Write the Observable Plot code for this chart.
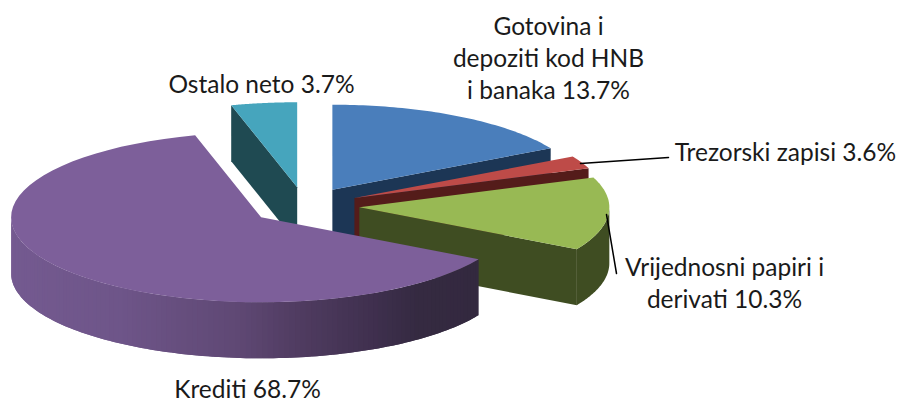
<!DOCTYPE html>
<html><head><meta charset="utf-8">
<script src="https://cdn.jsdelivr.net/npm/d3@7"></script>
<script src="https://cdn.jsdelivr.net/npm/@observablehq/plot@0.6"></script>
<style>html,body{margin:0;padding:0;background:#fff;overflow:hidden}svg{display:block}</style>
</head><body><div id="chart"></div>
<script>
// Slices, clockwise from twelve o'clock
const categories = ["Gotovina i\ndepoziti kod HNB\ni banaka", "Trezorski zapisi", "Vrijednosni papiri i\nderivati", "Krediti", "Ostalo neto"];
const labelledShares = [13.7, 3.6, 10.3, 68.7, 3.7];
// Sweep of each slice as it is actually drawn in the picture (percent of the circle)
const drawnShares = [16.9, 2.4, 13.9, 62.55, 4.25];
const topColors = ["#4a7ebb", "#be4b48", "#98b954", "#7d5f9a", "#46a5bd"];
const wallColors = ["#1c3655", "#541c1a", "#3f4d22", "#5e4673", "#1f4a52"];
const labelX = [548, 785, 724, 247, 261];
const labelY = [56, 150, 281, 387, 82];
const leaderX = [[580, 668], [606, 616]];
const leaderY = [[163, 157], [214, 273]];
const wallStopsX = [11, 120, 240, 300, 380, 420, 478];
const wallStopsC = ["#745a90", "#6e5589", "#5f4874", "#503c61", "#3e2f4d", "#352a41", "#33293f"];

const cx = 304, cy = 205.3, rx = 250, ry = 85, explode = 0.22, depth = 56;
const pt = (a, ox, oy, dz = 0) => ({x: ox + rx * Math.sin(a), y: oy - ry * Math.cos(a) + dz});
const arcPts = (a0, a1, ox, oy, dz = 0) => d3.range(0, 61).map(i => pt(a0 + (a1 - a0) * i / 60, ox, oy, dz));

let start = 0;
const slices = drawnShares.map((s, i) => {
  const a0 = start, a1 = start + s / 100 * 2 * Math.PI; start = a1;
  const mid = (a0 + a1) / 2;
  return {i, a0, a1, ox: cx + explode * rx * Math.sin(mid), oy: cy - explode * ry * Math.cos(mid)};
});
const topFace = s => [{x: s.ox, y: s.oy}, ...arcPts(s.a0, s.a1, s.ox, s.oy)];
const cutWall = (s, a) => {
  const e = pt(a, s.ox, s.oy);
  return [{x: s.ox, y: s.oy}, e, {x: e.x, y: e.y + depth}, {x: s.ox, y: s.oy + depth}];
};
const outerWall = (s, a0, a1) => [...arcPts(a0, a1, s.ox, s.oy), ...arcPts(a1, a0, s.ox, s.oy, depth)];
const face = (pts, fill) => Plot.line(pts, {x: "x", y: "y", fill, stroke: "none", curve: "linear"});

const [blue, red, green, purple, teal] = slices;

// Banded shading of the long outer wall of the big slice; each band runs under the next
const shade = d3.scaleLinear().domain(wallStopsX).range(wallStopsC).interpolate(d3.interpolateRgb);
const strips = [];
const n = 120;
const wallEnd = 1.5 * Math.PI;
for (let k = 0; k < n; k++) {
  const a0 = purple.a0 + (wallEnd - purple.a0) * k / n;
  const a1 = purple.a0 + (wallEnd - purple.a0) * Math.min(n, k + 2) / n;
  const p0 = pt(a0, purple.ox, purple.oy), p1 = pt(a1, purple.ox, purple.oy);
  const c = shade(p0.x);
  const mid = pt((a0 + a1) / 2, purple.ox, purple.oy);
  for (const p of [p0, mid, p1, {x: p1.x, y: p1.y + depth}, {x: mid.x, y: mid.y + depth}, {x: p0.x, y: p0.y + depth}]) strips.push({...p, strip: k, c});
}

const labels = categories.map((c, i) => ({text: `${c} ${labelledShares[i].toFixed(1)}%`, x: labelX[i], y: labelY[i]}));
const leaders = leaderX.flatMap((xs, k) => xs.map((x, j) => ({x, y: leaderY[k][j], k})));

const chart = Plot.plot({
  width: 899, height: 403, margin: 0,
  x: {domain: [0, 899], range: [0, 899], axis: null},
  y: {domain: [403, 0], range: [403, 0], axis: null},
  marks: [
    face(cutWall(teal, teal.a0), wallColors[4]),
    face(topFace(teal), topColors[4]),
    face(cutWall(blue, blue.a1), wallColors[0]),
    face(topFace(blue), topColors[0]),
    face(cutWall(red, red.a1), wallColors[1]),
    face(topFace(red), topColors[1]),
    face(cutWall(green, green.a1), wallColors[2]),
    face(outerWall(green, Math.PI / 2, green.a1), wallColors[2]),
    face(topFace(green), topColors[2]),
    Plot.line(strips, {x: "x", y: "y", z: "strip", fill: "c", stroke: "none", curve: "linear"}),
    face(topFace(purple), topColors[3]),
    Plot.line(leaders, {x: "x", y: "y", z: "k", stroke: "#000", strokeWidth: 1.5}),
    Plot.text(labels, {x: "x", y: "y", text: "text", fontFamily: "Lato, 'Noto Sans', sans-serif", fontSize: 24.5, fill: "#1a1a1a", lineHeight: 1.3, textAnchor: "middle"})
  ]
});
document.getElementById("chart").append(chart);
</script></body></html>
